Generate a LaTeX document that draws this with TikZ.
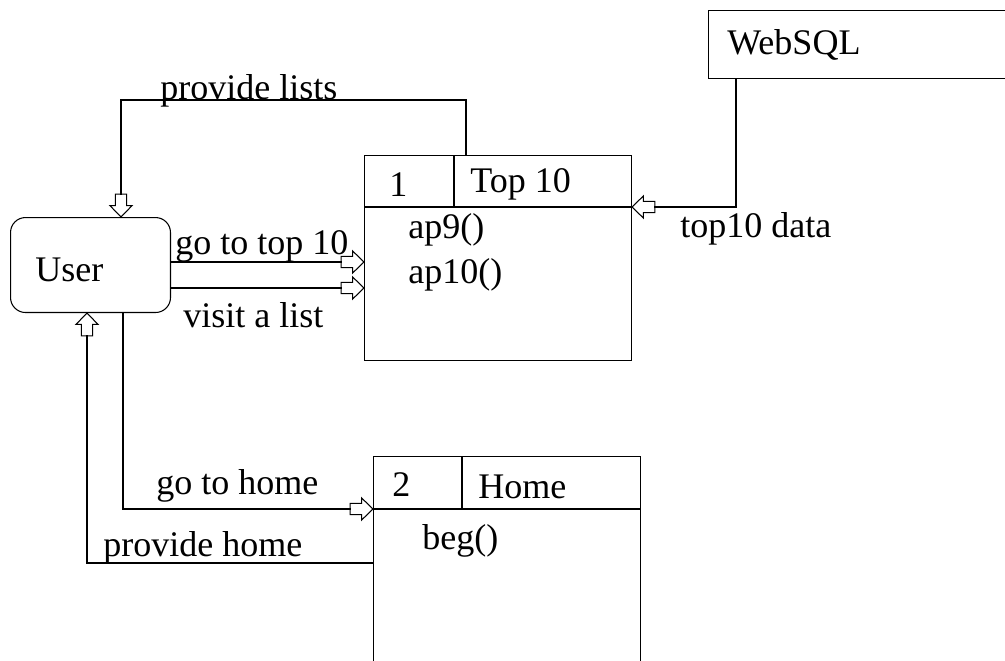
\documentclass[tikz,border=0pt]{standalone}
\usepackage{fontspec}
\setmainfont{Liberation Serif}
\usetikzlibrary{arrows.meta}
\pgfdeclarearrow{
  name = Blk,
  setup code = {
    \pgfarrowssettipend{0pt}
    \pgfarrowssetbackend{-13pt}
    \pgfarrowssetlineend{-12.5pt}
    \pgfarrowssetvisualbackend{-13pt}
    \pgfarrowsupperhullpoint{0pt}{6.3pt}
    \pgfarrowsupperhullpoint{-13pt}{6.3pt}
  },
  drawing code = {
    \pgfsetdash{}{0pt}
    \pgfsetmiterjoin
    \pgfpathmoveto{\pgfqpoint{0pt}{0pt}}
    \pgfpathlineto{\pgfqpoint{-6.5pt}{6.3pt}}
    \pgfpathlineto{\pgfqpoint{-6.5pt}{3.2pt}}
    \pgfpathlineto{\pgfqpoint{-13pt}{3.2pt}}
    \pgfpathlineto{\pgfqpoint{-13pt}{-3.2pt}}
    \pgfpathlineto{\pgfqpoint{-6.5pt}{-3.2pt}}
    \pgfpathlineto{\pgfqpoint{-6.5pt}{-6.3pt}}
    \pgfpathclose
    \pgfusepathqstroke
  }
}
\begin{document}
\begin{tikzpicture}[x=0.02cm,y=-0.02cm,
  every node/.style={font=\fontsize{20.5}{24}\selectfont},
  box/.style={draw, line width=0.6pt, inner sep=0pt, anchor=north west},
  txt/.style={inner sep=0pt, anchor=base west},
  flow/.style={draw, line width=0.6pt, -{Blk}},
  hdr/.style={line width=1.2pt}]
\useasboundingbox (0,0) rectangle (1005,660);
% boxes
\node[box, minimum width=6.14cm, minimum height=1.36cm] (db) at (708,10) {};
\node[box, minimum width=5.34cm, minimum height=4.1cm] (t1) at (364,155) {};
\draw[hdr] (t1.west |- 0,207) -- (t1.east |- 0,207);
\draw[hdr] (454,155) -- (454,207);
\node[box, rounded corners=0.3cm, minimum width=3.2cm, minimum height=1.9cm] (u) at (10,217) {};
\node[box, minimum width=5.34cm, minimum height=4.3cm] (t2) at (373,456) {};
\draw[hdr] (t2.west |- 0,509) -- (t2.east |- 0,509);
\draw[hdr] (462,456) -- (462,509);
% texts
\node[txt] (dbt) at (727,54) {WebSQL};
\node[txt] (n1) at (389,196) {1};
\node[txt] (t1t) at (470,192) {Top 10};
\node[txt] (m1) at (408,238) {ap9()};
\node[txt] (m2) at (408,283) {ap10()};
\node[txt] (ut) at (35,281) {User};
\node[txt] (n2) at (392,496) {2};
\node[txt] (t2t) at (478,498) {Home};
\node[txt] (m3) at (422,549) {beg()};
% connectors
\draw[flow] (t1.north -| 466,0) -- (466,100) -- (121,100) -- (u.north -| 121,0);
\draw[flow] (u.east |- 0,262) -- (t1.west |- 0,262);
\draw[flow] (u.east |- 0,288) -- (t1.west |- 0,288);
\draw[flow] (db.south -| 736,0) |- (t1.north east |- 0,207);
\draw[flow] (u.south -| 123,0) |- (t2.west |- 0,509);
\draw[flow] (t2.west |- 0,563) -| (u.south -| 87,0);
% labels
\node[txt] (l1) at (160,99) {provide lists};
\node[txt] (l2) at (175,254) {go to top 10};
\node[txt] (l3) at (183,327) {visit a list};
\node[txt] (l4) at (680,237) {top10 data};
\node[txt] (l5) at (156,494) {go to home};
\node[txt] (l6) at (103,556) {provide home};
\end{tikzpicture}
\end{document}
